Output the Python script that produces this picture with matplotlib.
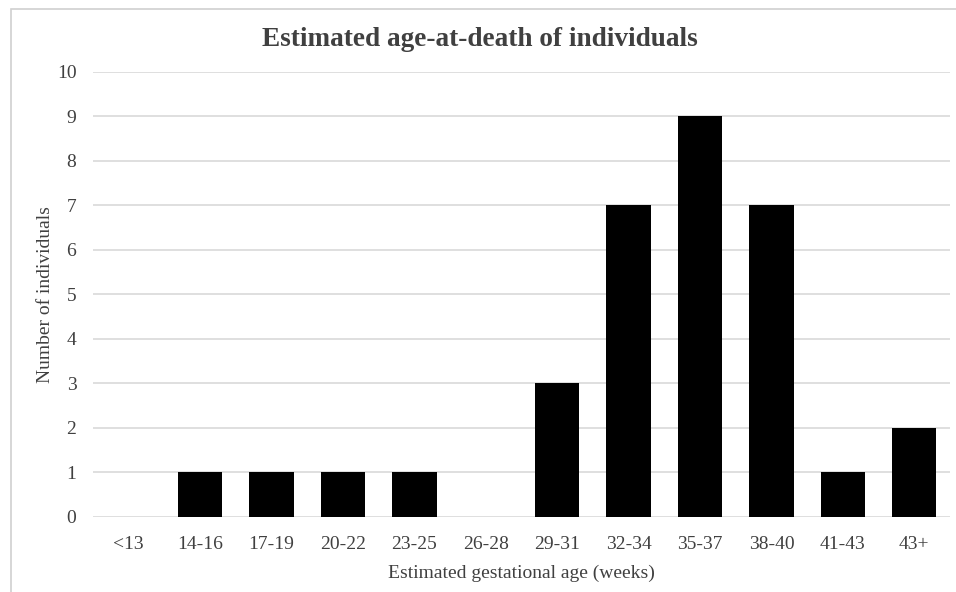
import matplotlib.pyplot as plt
from matplotlib.patches import Rectangle

categories = ['<13', '14-16', '17-19', '20-22', '23-25', '26-28', '29-31',
              '32-34', '35-37', '38-40', '41-43', '43+']
counts = [0, 1, 1, 1, 1, 0, 3, 7, 9, 7, 1, 2]

plt.rcParams['font.family'] = ['Liberation Serif', 'DejaVu Serif']
text_color = '#404040'

fig = plt.figure(figsize=(9.56, 5.92), dpi=100)
ax = fig.add_axes([0.0973, 0.1267, 0.8964, 0.7517])

# light frame round the whole chart
fig.patches.append(Rectangle((11 / 956, -0.01), 1.0, 1 - 9 / 592 + 0.01,
                             transform=fig.transFigure, fill=False,
                             edgecolor='#d0d0d0', linewidth=1.2))

x = range(len(categories))
ax.bar(x, counts, width=0.62, color='black', zorder=3)

ax.set_xlim(-0.5, len(categories) - 0.5)
ax.set_ylim(0, 10)
ax.set_yticks(range(0, 11))
ax.set_xticks(list(x))
ax.set_xticklabels(categories)
ax.grid(axis='y', color='#d9d9d9', linewidth=1.2, zorder=0)
for s in ax.spines.values():
    s.set_visible(False)
ax.tick_params(length=0, labelsize=14, colors=text_color, pad=12)
ax.tick_params(axis='x', pad=14)

fig.text(0.502, 1 - 40 / 592, 'Estimated age-at-death of individuals',
         fontsize=19.6, fontweight='bold', color=text_color,
         ha='center', va='center')
ax.set_xlabel('Estimated gestational age (weeks)', fontsize=14,
              color=text_color, labelpad=8)
ax.set_ylabel('Number of individuals', fontsize=14, color=text_color,
              labelpad=2)

fig.savefig('out.png', dpi=100)
